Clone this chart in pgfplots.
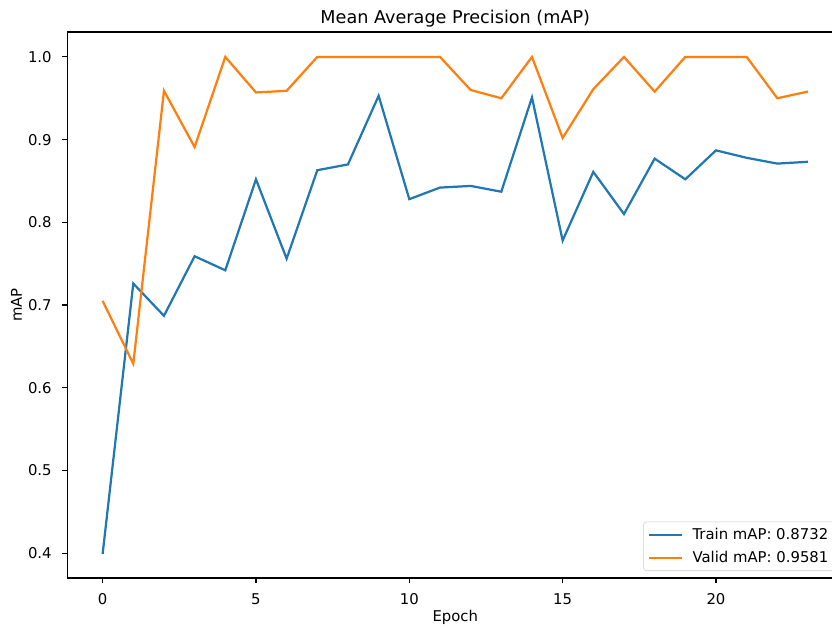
\documentclass[border=0pt]{standalone}
\usepackage{fontspec}
\setmainfont{DejaVu Sans}
\usepackage{pgfplots}
\pgfplotsset{compat=1.18}
\definecolor{mplblue}{HTML}{1F77B4}
\definecolor{mplorange}{HTML}{FF7F0E}
\newcommand{\tickfont}{\fontsize{10.7}{12.8}\selectfont}

\begin{document}
\begin{tikzpicture}
\begin{axis}[
  at={(0,0)}, anchor=south west,
  scale only axis, width=558.7pt, height=393.1pt,
  xmin=-1.15, xmax=24.15, ymin=0.37, ymax=1.03,
  xtick={0,5,10,15,20},
  ytick={0.4,0.5,0.6,0.7,0.8,0.9,1.0},
  /pgf/number format/assume math mode=true,
  tick pos=left, tick align=outside, major tick length=3.7pt,
  tick style={black, line width=0.85pt},
  axis line style={line width=0.85pt},
  tick label style={font=\tickfont},
  xticklabel style={anchor=base, inner sep=0pt, yshift=-15.3pt},
  yticklabel style={anchor=east, inner sep=0pt, xshift=-7.4pt,
    /pgf/number format/fixed, /pgf/number format/fixed zerofill, /pgf/number format/precision=1},
  title={Mean Average Precision (mAP)},
  every axis title/.style={at={(axis description cs:0.5,1)}, anchor=base, yshift=6pt, inner sep=0pt, font=\fontsize{12.7}{15}\selectfont},
  xlabel={Epoch},
  ylabel={mAP},
  every axis x label/.style={at={(axis description cs:0.5,0)}, anchor=base, inner sep=0pt, yshift=-31.5pt, font=\tickfont},
  every axis y label/.style={at={(axis description cs:-0.0587,0.5)}, rotate=90, anchor=base, inner sep=0pt, font=\tickfont},
  legend style={at={(rel axis cs:1,0)}, anchor=south east, xshift=-5pt, yshift=5pt,
    draw=black!20, rounded corners=2.5pt, fill=white, fill opacity=0.8, text opacity=1, draw opacity=1,
    inner xsep=3.5pt, inner ysep=2.5pt, row sep=3pt, font=\tickfont,
    /tikz/every odd column/.append style={column sep=4.5pt}},
  legend cell align=left,
  legend image code/.code={\draw[#1] (0pt,0pt) -- (23.8pt,0pt);},
]
\addplot[mplblue, line width=1.6pt] coordinates {
  (0,0.399) (1,0.726) (2,0.687) (3,0.759) (4,0.742) (5,0.852) (6,0.756) (7,0.863)
  (8,0.870) (9,0.953) (10,0.828) (11,0.842) (12,0.844) (13,0.837) (14,0.951) (15,0.778)
  (16,0.861) (17,0.810) (18,0.877) (19,0.852) (20,0.887) (21,0.878) (22,0.871) (23,0.8732)
};
\addlegendentry{Train mAP: 0.8732}
\addplot[mplorange, line width=1.6pt] coordinates {
  (0,0.705) (1,0.629) (2,0.959) (3,0.891) (4,1.0) (5,0.957) (6,0.959) (7,1.0)
  (8,1.0) (9,1.0) (10,1.0) (11,1.0) (12,0.960) (13,0.950) (14,1.0) (15,0.902)
  (16,0.961) (17,1.0) (18,0.958) (19,1.0) (20,1.0) (21,1.0) (22,0.950) (23,0.9581)
};
\addlegendentry{Valid mAP: 0.9581}
\end{axis}
\pgfresetboundingbox
\path[use as bounding box] (-48.5pt,-36pt) rectangle (550.6pt,416.2pt);
\end{tikzpicture}
\end{document}
